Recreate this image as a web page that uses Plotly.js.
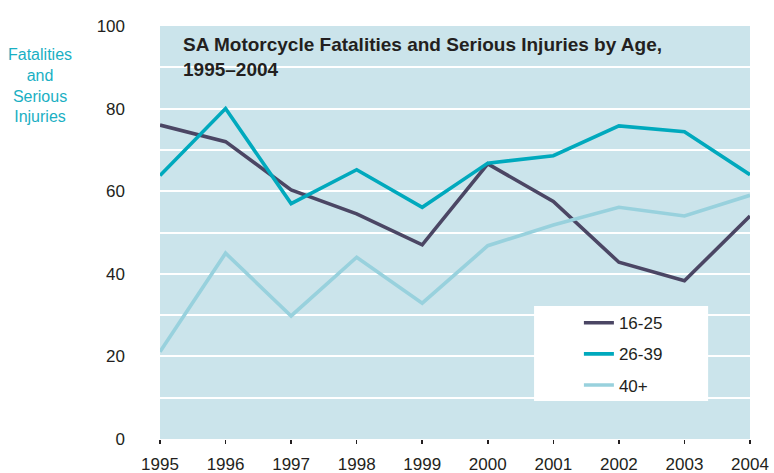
<!DOCTYPE html>
<html>
<head>
<meta charset="utf-8">
<script src="https://cdn.plot.ly/plotly-3.0.1.min.js"></script>
<style>html,body{margin:0;padding:0;background:#fff;}#chart{width:774px;height:473px;}</style>
</head>
<body>
<div id="chart"></div>
<script>
const years = [1995, 1996, 1997, 1998, 1999, 2000, 2001, 2002, 2003, 2004];
const age16to25 = [76, 72, 60.3, 54.5, 47, 66.6, 57.5, 42.8, 38.3, 54];
const age26to39 = [63.8, 80, 57, 65.2, 56.1, 66.8, 68.6, 75.8, 74.4, 64];
const age40plus = [21.1, 45, 29.8, 44, 32.9, 46.8, 51.8, 56.1, 54, 59];
const seriesNames = ['16-25', '26-39', '40+'];
const yTickVals = [0, 10, 20, 30, 40, 50, 60, 70, 80, 90, 100];
const yTickText = ['0', '', '20', '', '40', '', '60', '', '80', '', '100'];
const titleText = '<b>SA Motorcycle Fatalities and Serious Injuries by Age,<br>1995\u20132004</b>';
const yTitleText = 'Fatalities<br>and<br>Serious<br>Injuries';

const regular = 'Liberation Sans, Arial, sans-serif';
const colors = ['#4b4664', '#00a9bd', '#98d1dd'];
const seriesData = [age16to25, age26to39, age40plus];

const traces = seriesData.map((ys, i) => ({
  x: years, y: ys, type: 'scatter', mode: 'lines', name: seriesNames[i],
  legendgroup: 'g' + i,
  line: {color: colors[i], width: 3.6},
  hoverinfo: 'skip'
}));

const layout = {
  width: 774, height: 473,
  margin: {l: 160, r: 24, t: 26, b: 34},
  paper_bgcolor: '#ffffff',
  plot_bgcolor: '#cbe4eb',
  showlegend: true,
  legend: {
    x: 0.71, y: 0.324, xanchor: 'left', yanchor: 'top',
    bgcolor: 'rgba(0,0,0,0)', borderwidth: 0,
    traceorder: 'grouped', tracegroupgap: 6,
    font: {family: regular, size: 17, color: '#231f20'}
  },
  xaxis: {
    range: [1995, 2004], tickvals: years, ticktext: years.map(String),
    showgrid: false, zeroline: false, showline: false,
    ticks: 'outside', ticklen: 4, tickwidth: 1.5, tickcolor: '#231f20',
    ticklabelstandoff: 6,
    tickfont: {family: regular, size: 17, color: '#231f20'},
    fixedrange: true
  },
  yaxis: {
    range: [0, 100], tickvals: yTickVals, ticktext: yTickText,
    showgrid: true, gridcolor: '#ffffff', gridwidth: 2,
    zeroline: false, showline: false, ticks: '',
    ticklabelstandoff: 34,
    tickfont: {family: regular, size: 17, color: '#231f20'},
    fixedrange: true
  },
  shapes: [{
    type: 'rect', xref: 'paper', yref: 'paper',
    x0: 0.634, x1: 0.929, y0: 0.092, y1: 0.322,
    fillcolor: '#ffffff', line: {width: 0}, layer: 'above'
  }],
  annotations: [
    {
      text: titleText, xref: 'paper', yref: 'paper',
      x: 0.036, y: 0.985, xanchor: 'left', yanchor: 'top', align: 'left',
      showarrow: false,
      font: {family: regular, size: 19, color: '#231f20'}
    },
    {
      text: yTitleText, xref: 'paper', yref: 'paper',
      x: -0.203, y: 0.857, xanchor: 'center', yanchor: 'middle', align: 'center',
      showarrow: false,
      font: {family: regular, size: 16, color: '#1aafc3'}
    }
  ]
};

Plotly.newPlot('chart', traces, layout, {displayModeBar: false, staticPlot: true});
</script>
</body>
</html>
